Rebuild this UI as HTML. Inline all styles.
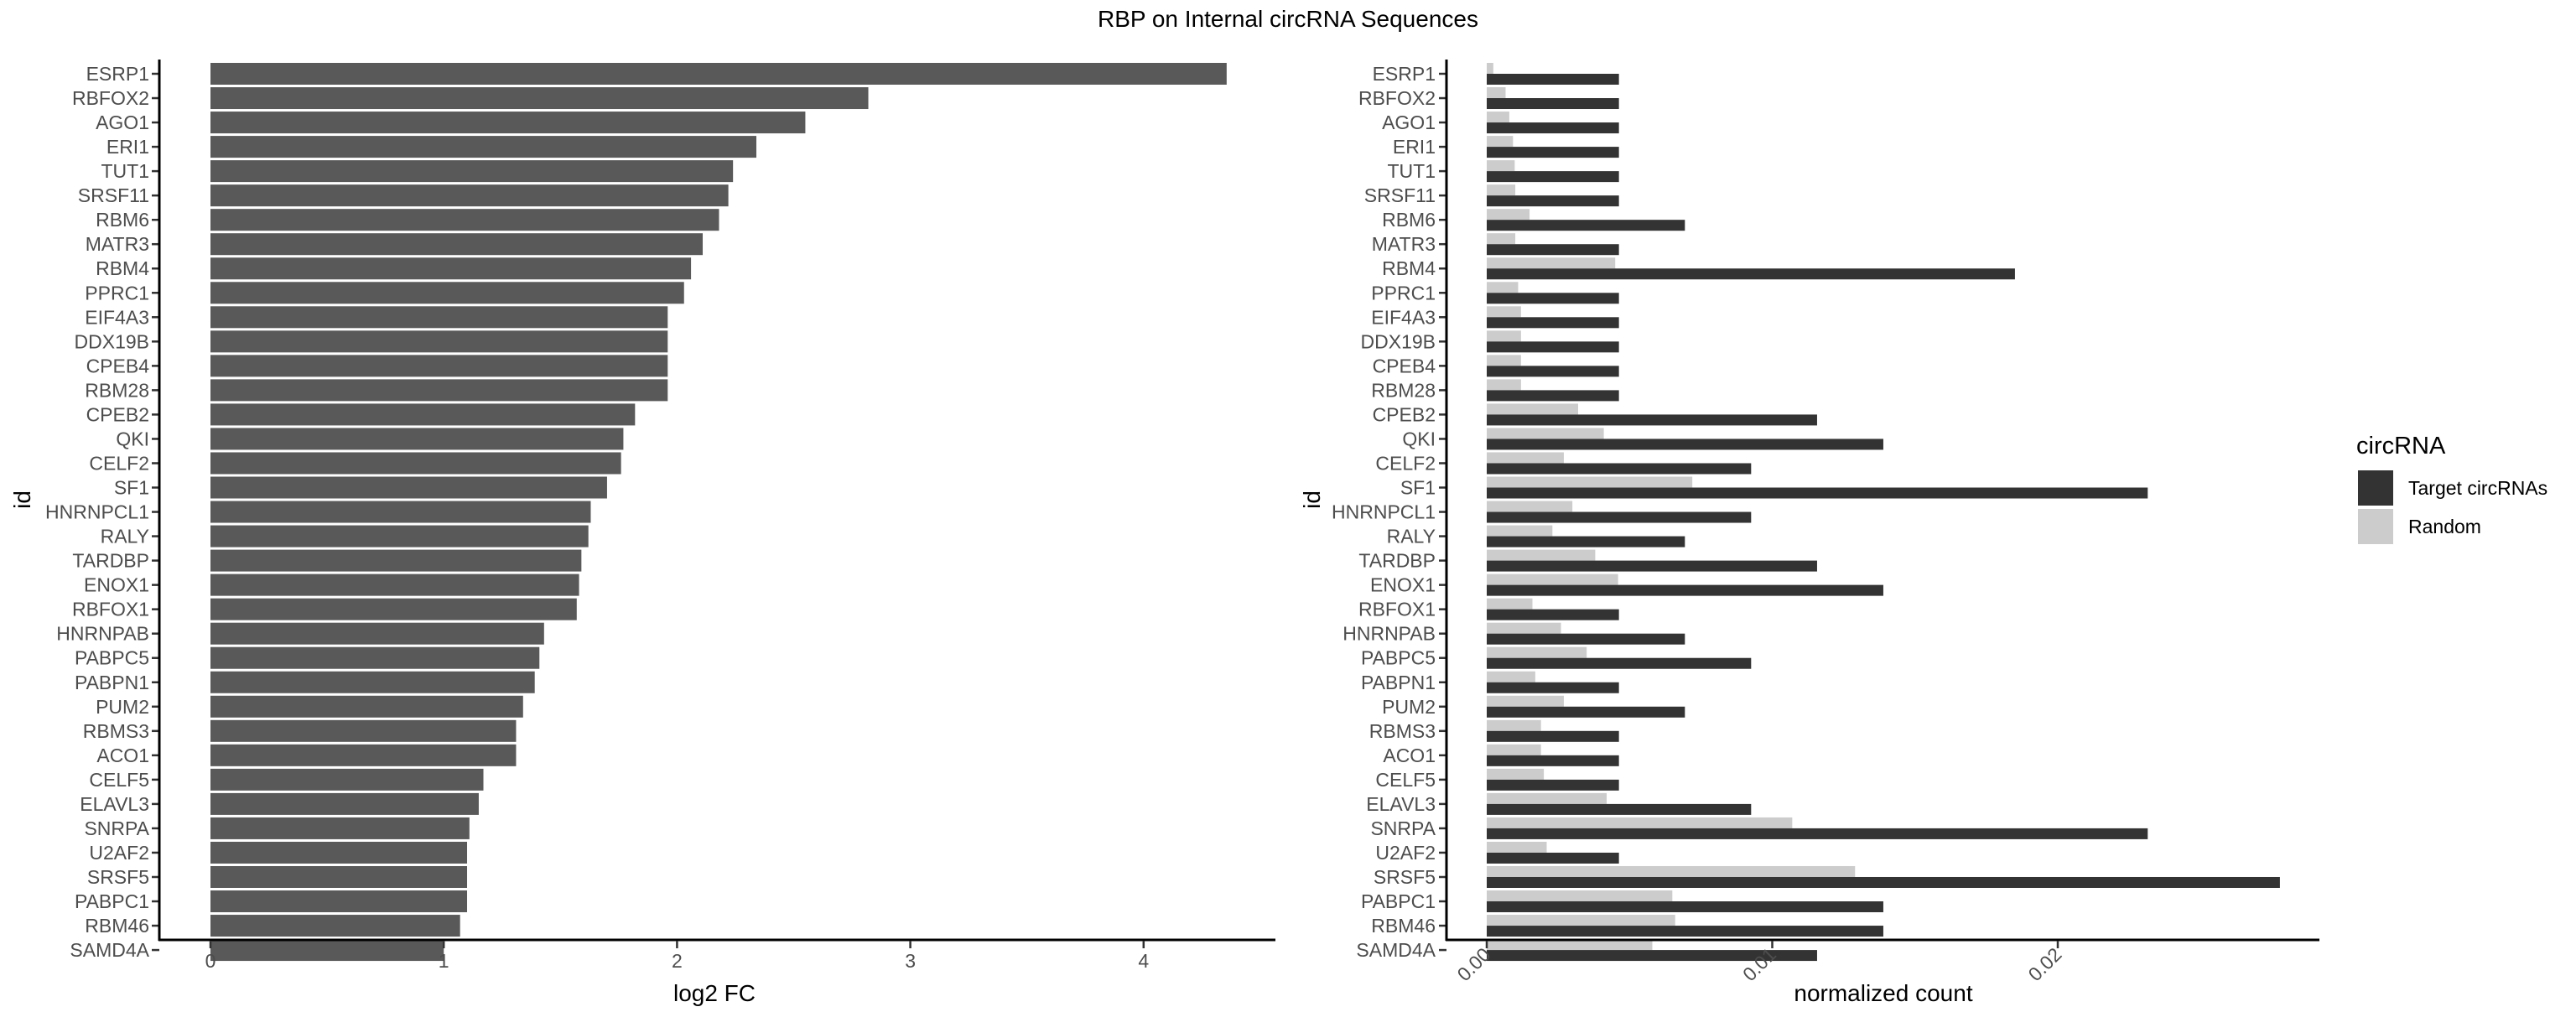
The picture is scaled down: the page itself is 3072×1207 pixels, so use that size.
<!DOCTYPE html>
<html><head><meta charset="utf-8"><style>
html,body{margin:0;padding:0;background:#fff}
svg{display:block;font-family:"Liberation Sans",sans-serif}
</style></head><body>
<svg id="chart" width="3072" height="1207" viewBox="0 0 3072 1207" xmlns="http://www.w3.org/2000/svg">
<text x="1536" y="32" font-size="28" text-anchor="middle" fill="#000">RBP on Internal circRNA Sequences</text>
<g id="left"></g>
<g id="right"></g>
<g>
<text x="2810" y="541" font-size="29" fill="#000">circRNA</text>
<rect x="2812" y="561" width="42" height="42" fill="#333333"/>
<text x="2872" y="590" font-size="23" fill="#000">Target circRNAs</text>
<rect x="2812" y="607" width="42" height="42" fill="#cccccc"/>
<text x="2872" y="636" font-size="23" fill="#000">Random</text>
</g>
</svg>
<script>
const categories=["ESRP1","RBFOX2","AGO1","ERI1","TUT1","SRSF11","RBM6","MATR3","RBM4","PPRC1","EIF4A3","DDX19B","CPEB4","RBM28","CPEB2","QKI","CELF2","SF1","HNRNPCL1","RALY","TARDBP","ENOX1","RBFOX1","HNRNPAB","PABPC5","PABPN1","PUM2","RBMS3","ACO1","CELF5","ELAVL3","SNRPA","U2AF2","SRSF5","PABPC1","RBM46","SAMD4A"];
const log2fc=[4.356,2.82,2.55,2.34,2.24,2.22,2.18,2.11,2.06,2.03,1.96,1.96,1.96,1.96,1.82,1.77,1.76,1.70,1.63,1.62,1.59,1.58,1.57,1.43,1.41,1.39,1.34,1.31,1.31,1.17,1.15,1.11,1.10,1.10,1.10,1.07,1.00];
const targetCount=[0.00463,0.00463,0.00463,0.00463,0.00463,0.00463,0.00694,0.00463,0.0185,0.00463,0.00463,0.00463,0.00463,0.00463,0.01157,0.01389,0.00926,0.02315,0.00926,0.00694,0.01157,0.01389,0.00463,0.00694,0.00926,0.00463,0.00694,0.00463,0.00463,0.00463,0.00926,0.02315,0.00463,0.02778,0.01389,0.01389,0.01157];
const randomCount=[0.00023,0.00066,0.00079,0.00092,0.00098,0.001,0.0015,0.001,0.0045,0.0011,0.0012,0.0012,0.0012,0.0012,0.0032,0.0041,0.0027,0.0072,0.003,0.0023,0.0038,0.0046,0.0016,0.0026,0.0035,0.0017,0.0027,0.0019,0.0019,0.002,0.0042,0.0107,0.0021,0.0129,0.0065,0.0066,0.0058];
const leftTicks=[0,1,2,3,4];
const rightTicks=[0,0.01,0.02];
const rightTickLabels=["0.00","0.01","0.02"];

const NS="http://www.w3.org/2000/svg";
function mk(parent,tag,attrs,text){const e=document.createElementNS(NS,tag);for(const k in attrs)e.setAttribute(k,attrs[k]);if(text!==undefined)e.textContent=text;parent.appendChild(e);return e;}
const rowTop=88,rowPitch=29.03;
function yRow(i){return rowTop+i*rowPitch;}
const xL=v=>251+v*278.2;
const xR=v=>1773+v*34050;
const L=document.getElementById('left'),R=document.getElementById('right');

categories.forEach((c,i)=>{
  const yc=yRow(i);
  let r=mk(L,'rect',{x:xL(0),y:yc-13,width:xL(log2fc[i])-xL(0),height:26,fill:'#595959'});
  
  
  let t=mk(L,'text',{x:178,y:yc+8,'font-size':23,'text-anchor':'end',fill:'#4d4d4d'},c);
  
  
  mk(L,'line',{x1:181,x2:190,y1:yc,y2:yc,stroke:'#333',"stroke-width":2.5});
  let rr=mk(R,'rect',{x:xR(0),y:yc-13,width:xR(randomCount[i])-xR(0),height:13,fill:'#cccccc'});
  
  
  let rd=mk(R,'rect',{x:xR(0),y:yc,width:xR(targetCount[i])-xR(0),height:13,fill:'#333333'});
  
  
  let t2=mk(R,'text',{x:1712,y:yc+8,'font-size':23,'text-anchor':'end',fill:'#4d4d4d'},c);
  
  
  mk(R,'line',{x1:1716,x2:1725,y1:yc,y2:yc,stroke:'#333',"stroke-width":2.5});
});
// axes
mk(L,'line',{x1:190,x2:190,y1:71,y2:1122,stroke:'#000','stroke-width':3});
mk(L,'line',{x1:189,x2:1521,y1:1121,y2:1121,stroke:'#000','stroke-width':3});
leftTicks.forEach(v=>{
  mk(L,'line',{x1:xL(v),x2:xL(v),y1:1122,y2:1131,stroke:'#333','stroke-width':2.5});
  let t=mk(L,'text',{x:xL(v),y:1154,'font-size':23,'text-anchor':'middle',fill:'#4d4d4d'},String(v));
  
  
});
let a1=mk(L,'text',{x:852,y:1194,'font-size':28,'text-anchor':'middle',fill:'#000'},'log2 FC');


let a2=mk(L,'text',{x:0,y:0,'font-size':28,'text-anchor':'middle',fill:'#000',transform:'translate(36,596) rotate(-90)'},'id');



mk(R,'line',{x1:1725,x2:1725,y1:71,y2:1122,stroke:'#000','stroke-width':3});
mk(R,'line',{x1:1724,x2:2766,y1:1121,y2:1121,stroke:'#000','stroke-width':3});
rightTicks.forEach((v,i)=>{
  mk(R,'line',{x1:xR(v),x2:xR(v),y1:1122,y2:1131,stroke:'#333','stroke-width':2.5});
  let t=mk(R,'text',{x:0,y:0,'font-size':23,'text-anchor':'end',fill:'#4d4d4d',transform:`translate(${xR(v)+6},1140) rotate(-45)`},rightTickLabels[i]);
  
  
});
let a3=mk(R,'text',{x:2246,y:1194,'font-size':28,'text-anchor':'middle',fill:'#000'},'normalized count');


let a4=mk(R,'text',{x:0,y:0,'font-size':28,'text-anchor':'middle',fill:'#000',transform:'translate(1574,596) rotate(-90)'},'id');


</script>
</body></html>
